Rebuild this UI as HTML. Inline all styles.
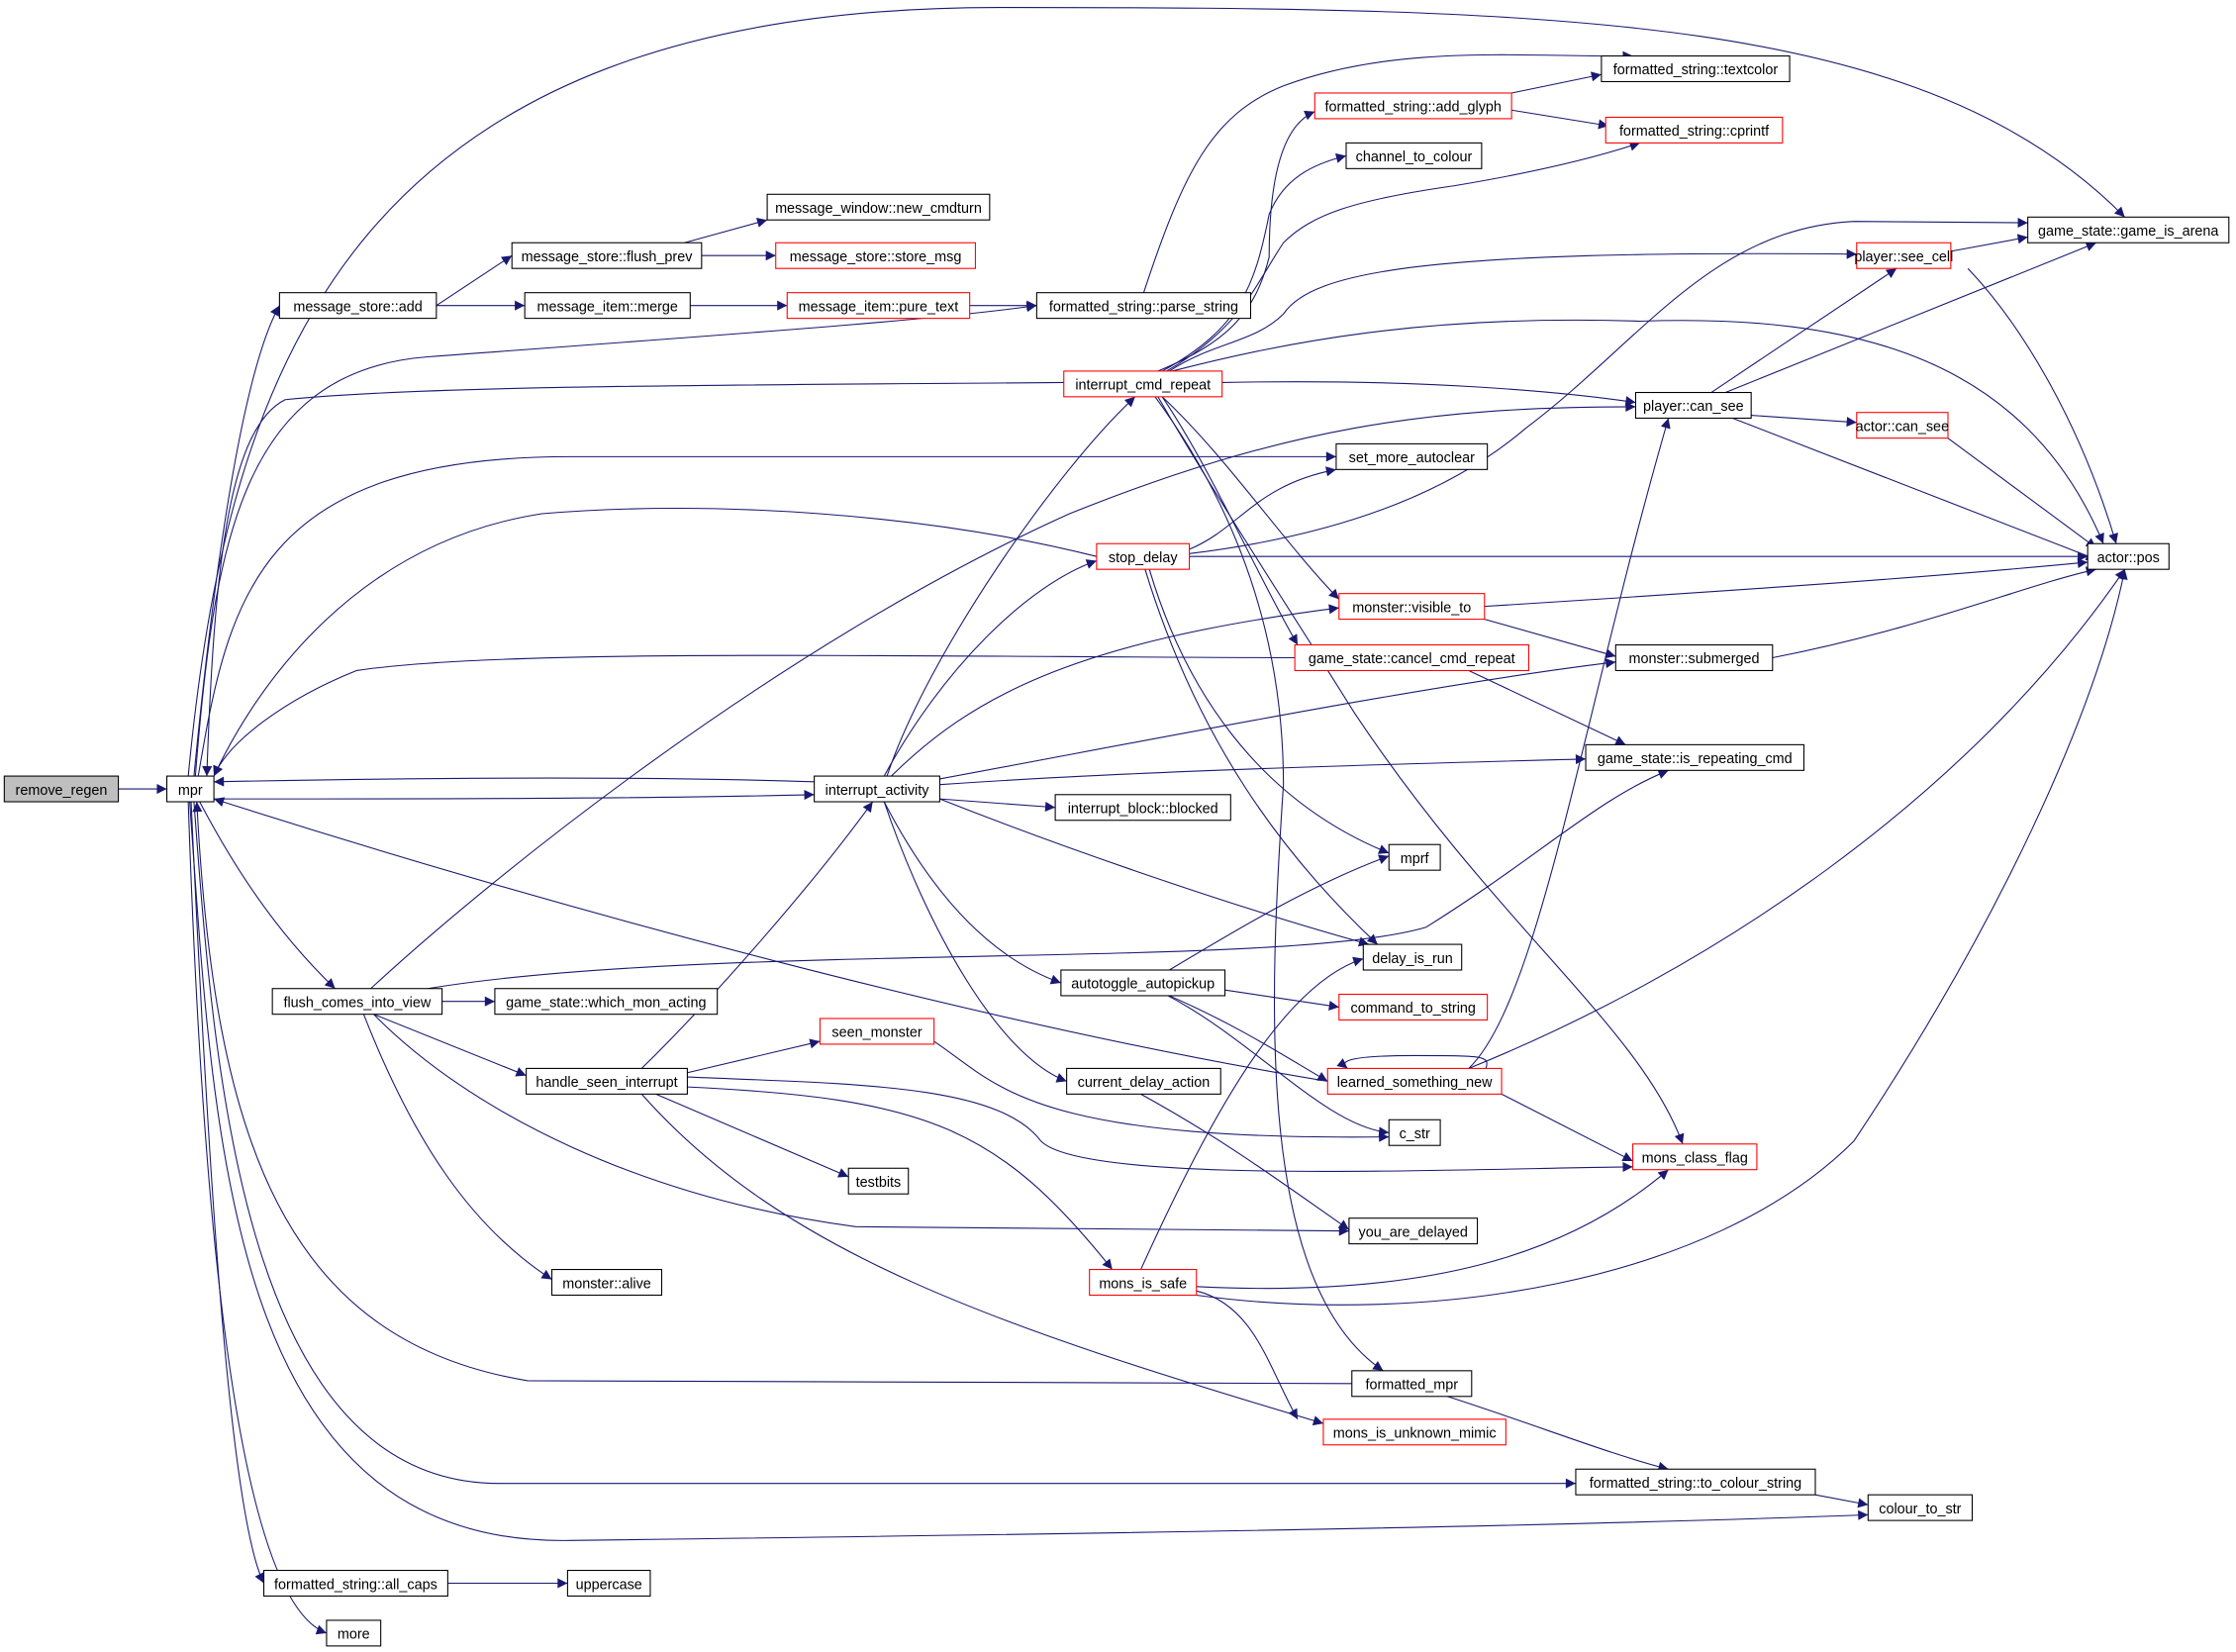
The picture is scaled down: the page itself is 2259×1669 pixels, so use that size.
<!DOCTYPE html>
<html><head><meta charset="utf-8"><style>
html,body{margin:0;padding:0;background:#fff;}
svg{display:block}
text{font-family:"Liberation Sans","DejaVu Sans",sans-serif;font-size:10px;text-anchor:middle;fill:#000}
.e{fill:none;stroke:#191970;stroke-width:0.75}
.n{fill:#fff;stroke:#000;stroke-width:0.75}
.r{fill:#fff;stroke:#f00;stroke-width:0.75}
</style></head><body>
<svg width="2259" height="1669" viewBox="0 0 1568 1158" xmlns="http://www.w3.org/2000/svg">
<defs><marker id="a" viewBox="0 0 10 10" refX="10" refY="5" markerWidth="10" markerHeight="7" markerUnits="userSpaceOnUse" orient="auto"><path d="M0,0 L10,5 L0,10 z" fill="#191970"/></marker></defs>
<g class="e" marker-end="url(#a)">
<path d="M83,553 L117,553"/>
<path d="M136,544 C150,400 170,260 196,214"/>
<path d="M132,544 C160,250 250,5 700,5 C1100,5 1350,10 1490,152"/>
<path d="M137,544 C150,380 170,260 300,250 C500,235 650,225 727,214"/>
<path d="M139,544 C160,420 180,320 400,320 L937,320"/>
<path d="M150,560 C300,560 450,560 571,557"/>
<path d="M140,562 C160,600 190,650 235,693"/>
<path d="M136,562 C150,750 170,1040 350,1040 L1105,1040"/>
<path d="M133,562 C150,800 160,1085 400,1080 C800,1075 1100,1070 1310,1062"/>
<path d="M134,562 C145,800 160,1060 185,1110"/>
<path d="M132,562 C140,800 160,1120 229,1145"/>
<path d="M746,268 C500,270 300,270 200,280 C160,300 150,400 145,544"/>
<path d="M769,390 C650,360 500,350 380,360 C250,380 180,480 150,544"/>
<path d="M908,461 C600,460 350,455 250,470 C200,490 160,520 150,544"/>
<path d="M571,548 C450,544 300,545 150,548"/>
<path d="M931,758 C700,720 400,640 150,560"/>
<path d="M948,970 L370,968 C200,940 150,800 138,562"/>
<path d="M306,214 L359,179"/>
<path d="M306,214 L368,214"/>
<path d="M480,170 L538,154"/>
<path d="M492,179 L544,179"/>
<path d="M484,214 L552,214"/>
<path d="M680,214 L727,214"/>
<path d="M802,205 C830,120 850,80 900,60 C980,30 1070,40 1145,39"/>
<path d="M1060,65 L1123,52"/>
<path d="M1060,77 L1128,88"/>
<path d="M812,260 C860,240 880,220 890,180 C890,110 905,85 922,78"/>
<path d="M815,260 C870,230 880,200 890,150 C900,125 920,115 944,109"/>
<path d="M818,260 C870,230 880,200 900,170 C920,150 950,140 1020,130 C1080,120 1120,110 1150,100"/>
<path d="M820,260 C850,240 880,240 900,220 C920,190 1000,175 1302,178"/>
<path d="M822,260 C900,240 1000,220 1150,225 C1300,220 1420,250 1475,381"/>
<path d="M857,268 C1000,265 1100,275 1147,282"/>
<path d="M815,278 C860,320 900,380 939,420"/>
<path d="M815,278 C850,330 880,400 910,452"/>
<path d="M812,278 C860,360 900,420 950,500 C1050,650 1150,720 1180,802"/>
<path d="M810,278 C870,360 900,450 900,550 C890,700 880,900 970,961"/>
<path d="M1200,275 L1330,188"/>
<path d="M1210,275 L1470,170"/>
<path d="M1228,291 L1302,296"/>
<path d="M1215,293 L1470,392"/>
<path d="M1368,176 L1422,166"/>
<path d="M1380,188 C1420,230 1460,300 1484,381"/>
<path d="M1366,307 L1470,384"/>
<path d="M834,385 C870,370 880,340 937,329"/>
<path d="M834,388 C900,380 1000,360 1070,300 C1150,240 1200,160 1300,155 L1422,156"/>
<path d="M834,390 L1464,390"/>
<path d="M806,399 C830,480 880,560 974,598"/>
<path d="M803,399 C840,520 900,600 966,662"/>
<path d="M1041,425 C1200,415 1350,405 1464,394"/>
<path d="M1041,434 L1133,460"/>
<path d="M1243,461 C1350,440 1420,410 1470,399"/>
<path d="M1030,470 L1140,522"/>
<path d="M622,544 C650,460 740,330 796,278"/>
<path d="M620,544 C660,470 720,410 769,393"/>
<path d="M625,544 C680,490 750,450 939,426"/>
<path d="M659,546 C800,520 1000,480 1133,464"/>
<path d="M659,550 C800,540 1000,535 1112,532"/>
<path d="M659,560 L740,566"/>
<path d="M659,560 C760,600 880,640 960,662"/>
<path d="M620,562 C650,620 690,670 744,689"/>
<path d="M620,562 C650,650 700,740 748,758"/>
<path d="M820,680 C870,650 920,620 974,600"/>
<path d="M859,694 L939,706"/>
<path d="M820,698 C870,720 900,740 931,758"/>
<path d="M819,698 C880,730 930,790 974,794"/>
<path d="M1042,749 C1045,740 1040,740 992,740 C940,740 940,745 945,749"/>
<path d="M1030,749 C1080,700 1110,500 1170,293"/>
<path d="M1030,749 C1200,680 1380,560 1490,399"/>
<path d="M1053,767 L1145,814"/>
<path d="M260,693 C350,610 550,450 750,360 C900,300 1000,285 1147,285"/>
<path d="M300,693 C500,660 900,680 1000,650 C1080,600 1120,560 1170,540"/>
<path d="M310,702 L347,702"/>
<path d="M262,711 L369,754"/>
<path d="M255,711 C290,800 330,860 387,897"/>
<path d="M262,711 C330,780 450,840 600,860 L946,863"/>
<path d="M450,749 C500,700 570,620 612,562"/>
<path d="M482,752 L575,730"/>
<path d="M460,767 L595,825"/>
<path d="M482,762 C650,770 700,790 780,890"/>
<path d="M482,755 C600,760 700,760 730,800 C760,830 1000,820 1145,818"/>
<path d="M450,767 C550,880 700,930 928,998"/>
<path d="M655,730 C700,760 720,800 974,797"/>
<path d="M800,767 C860,800 900,830 946,862"/>
<path d="M800,890 C850,780 900,690 956,672"/>
<path d="M839,902 C1000,910 1100,880 1170,820"/>
<path d="M839,908 C1000,930 1200,900 1300,800 C1400,650 1470,500 1490,399"/>
<path d="M839,905 C880,915 890,960 910,995"/>
<path d="M1015,979 C1080,1000 1130,1020 1170,1030"/>
<path d="M1273,1048 L1310,1055"/>
<path d="M314,1110 L398,1110"/>
</g>
<rect x="3" y="544" width="80" height="18" fill="#bfbfbf" stroke="#000" stroke-width="0.75"/><text x="43" y="557">remove_regen</text>
<rect class="n" x="117" y="544" width="33" height="18"/><text x="133.5" y="557">mpr</text>
<rect class="n" x="196" y="205" width="110" height="18"/><text x="251" y="218">message_store::add</text>
<rect class="n" x="359" y="170" width="133" height="18"/><text x="425.5" y="183">message_store::flush_prev</text>
<rect class="n" x="538" y="136" width="156" height="18"/><text x="616" y="149">message_window::new_cmdturn</text>
<rect class="r" x="544" y="170" width="140" height="18"/><text x="614" y="183">message_store::store_msg</text>
<rect class="n" x="368" y="205" width="116" height="18"/><text x="426" y="218">message_item::merge</text>
<rect class="r" x="552" y="205" width="128" height="18"/><text x="616" y="218">message_item::pure_text</text>
<rect class="n" x="727" y="205" width="150" height="18"/><text x="802" y="218">formatted_string::parse_string</text>
<rect class="n" x="1123" y="39" width="132" height="18"/><text x="1189" y="52">formatted_string::textcolor</text>
<rect class="r" x="922" y="65" width="138" height="18"/><text x="991" y="78">formatted_string::add_glyph</text>
<rect class="r" x="1126" y="82" width="124" height="18"/><text x="1188" y="95">formatted_string::cprintf</text>
<rect class="n" x="944" y="100" width="95" height="18"/><text x="991.5" y="113">channel_to_colour</text>
<rect class="n" x="1422" y="152" width="141" height="18"/><text x="1492.5" y="165">game_state::game_is_arena</text>
<rect class="r" x="1302" y="170" width="66" height="18"/><text x="1335" y="183">player::see_cell</text>
<rect class="r" x="746" y="260" width="111" height="18"/><text x="801.5" y="273">interrupt_cmd_repeat</text>
<rect class="n" x="1147" y="275" width="81" height="18"/><text x="1187.5" y="288">player::can_see</text>
<rect class="r" x="1302" y="289" width="64" height="18"/><text x="1334" y="302">actor::can_see</text>
<rect class="n" x="937" y="311" width="106" height="18"/><text x="990" y="324">set_more_autoclear</text>
<rect class="n" x="1464" y="381" width="57" height="18"/><text x="1492.5" y="394">actor::pos</text>
<rect class="r" x="769" y="381" width="65" height="18"/><text x="801.5" y="394">stop_delay</text>
<rect class="r" x="939" y="416" width="102" height="18"/><text x="990" y="429">monster::visible_to</text>
<rect class="r" x="908" y="452" width="164" height="18"/><text x="990" y="465">game_state::cancel_cmd_repeat</text>
<rect class="n" x="1133" y="452" width="110" height="18"/><text x="1188" y="465">monster::submerged</text>
<rect class="n" x="1112" y="522" width="153" height="18"/><text x="1188.5" y="535">game_state::is_repeating_cmd</text>
<rect class="n" x="571" y="544" width="88" height="18"/><text x="615" y="557">interrupt_activity</text>
<rect class="n" x="740" y="557" width="123" height="18"/><text x="801.5" y="570">interrupt_block::blocked</text>
<rect class="n" x="974" y="592" width="36" height="18"/><text x="992" y="605">mprf</text>
<rect class="n" x="956" y="662" width="69" height="18"/><text x="990.5" y="675">delay_is_run</text>
<rect class="n" x="744" y="680" width="115" height="18"/><text x="801.5" y="693">autotoggle_autopickup</text>
<rect class="r" x="939" y="697" width="104" height="18"/><text x="991" y="710">command_to_string</text>
<rect class="n" x="191" y="693" width="119" height="18"/><text x="250.5" y="706">flush_comes_into_view</text>
<rect class="n" x="347" y="693" width="156" height="18"/><text x="425" y="706">game_state::which_mon_acting</text>
<rect class="r" x="575" y="714" width="80" height="18"/><text x="615" y="727">seen_monster</text>
<rect class="n" x="369" y="749" width="113" height="18"/><text x="425.5" y="762">handle_seen_interrupt</text>
<rect class="n" x="748" y="749" width="108" height="18"/><text x="802" y="762">current_delay_action</text>
<rect class="r" x="931" y="749" width="122" height="18"/><text x="992" y="762">learned_something_new</text>
<rect class="n" x="974" y="785" width="36" height="18"/><text x="992" y="798">c_str</text>
<rect class="r" x="1145" y="802" width="87" height="18"/><text x="1188.5" y="815">mons_class_flag</text>
<rect class="n" x="595" y="819" width="42" height="18"/><text x="616" y="832">testbits</text>
<rect class="n" x="946" y="854" width="90" height="18"/><text x="991" y="867">you_are_delayed</text>
<rect class="n" x="387" y="890" width="77" height="18"/><text x="425.5" y="903">monster::alive</text>
<rect class="r" x="764" y="890" width="75" height="18"/><text x="801.5" y="903">mons_is_safe</text>
<rect class="n" x="948" y="961" width="84" height="18"/><text x="990" y="974">formatted_mpr</text>
<rect class="r" x="928" y="995" width="128" height="18"/><text x="992" y="1008">mons_is_unknown_mimic</text>
<rect class="n" x="1105" y="1030" width="168" height="18"/><text x="1189" y="1043">formatted_string::to_colour_string</text>
<rect class="n" x="1310" y="1048" width="73" height="18"/><text x="1346.5" y="1061">colour_to_str</text>
<rect class="n" x="185" y="1101" width="129" height="18"/><text x="249.5" y="1114">formatted_string::all_caps</text>
<rect class="n" x="398" y="1101" width="58" height="18"/><text x="427" y="1114">uppercase</text>
<rect class="n" x="229" y="1136" width="38" height="18"/><text x="248" y="1149">more</text>
</svg>
</body></html>
